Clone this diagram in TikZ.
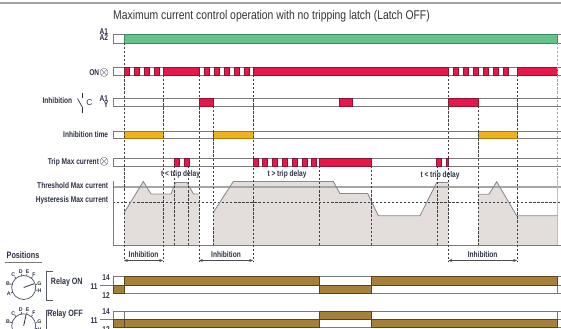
\documentclass[tikz,border=0pt]{standalone}
\usepackage{fontspec}
\setmainfont{Liberation Sans}
\usepackage{graphicx}
\usetikzlibrary{positioning,arrows.meta,calc}

\definecolor{lblcol}{HTML}{2B3044}
\definecolor{rowcol}{HTML}{7A7A7A}
\definecolor{grn}{HTML}{66C28C}
\definecolor{grnd}{HTML}{3E8A5C}
\definecolor{rd}{HTML}{E8174A}
\definecolor{rdd}{HTML}{8C1533}
\definecolor{org}{HTML}{F0B21A}
\definecolor{orgd}{HTML}{A87A12}
\definecolor{brn}{HTML}{A67F3A}
\definecolor{brnd}{HTML}{5A4522}
\definecolor{curfill}{HTML}{E3DEDB}
\definecolor{curline}{HTML}{8A8A8A}

\newcommand{\cnd}[1]{\scalebox{0.78}[1.0]{#1}}

\tikzset{
  lbl/.style={font=\fontsize{4.8}{5}\selectfont\bfseries, text=lblcol, inner sep=0pt},
  symb/.style={font=\fontsize{6}{6}\selectfont, text=lblcol, inner sep=0pt},
  rowline/.style={draw=rowcol, line width=0.5pt},
  tmark/.style={draw=black!75, line width=0.35pt, dash pattern=on 1.3pt off 1pt},
  greenbar/.style={fill=grn, draw=grnd, line width=0.5pt},
  redbar/.style={fill=rd, draw=rdd, line width=0.4pt},
  orangebar/.style={fill=org, draw=orgd, line width=0.4pt},
  brownbar/.style={fill=brn, draw=brnd, line width=0.4pt},
  wave/.style={draw=curline, line width=0.5pt},
  span/.style={<->, >={Stealth[length=2.2pt,width=1.8pt]}, draw=black!70, line width=0.4pt},
}

\begin{document}
\begin{tikzpicture}[x=0.02cm,y=-0.02cm]
\useasboundingbox (0,0) rectangle (561,328);

% top rule and title
\draw[draw=rowcol!70, line width=0.6pt] (0,3) -- (561,3);
\node[font=\fontsize{7.2}{8}\selectfont, text=black!80, inner sep=0pt] (title) at (271.5,16) {\scalebox{0.82}[1.0]{Maximum current control operation with no tripping latch (Latch OFF)}};

% current curve, filled
\fill[curfill] (124,245) -- (124,213) -- (143.3,181.5) -- (151,194) -- (171,194) -- (175.5,182.5) -- (187,182.5) -- (193.5,194) -- (199,194) -- (199,245) -- cycle;
\fill[curfill] (213,245) -- (213,213) -- (233.3,181.5) -- (333.3,181.5) -- (340,193.5) -- (367.7,193.5) -- (378.3,215.7) -- (420,215.7) -- (436.7,182.5) -- (448.3,182.5) -- (448.3,245) -- cycle;
\fill[curfill] (478,245) -- (478,194.3) -- (489,194.3) -- (496.7,181.7) -- (516.7,215.7) -- (557.7,215.7) -- (557.7,245) -- cycle;

% threshold and hysteresis levels
\draw[draw=black!35, line width=0.9pt] (113,187) -- (561,187);
\draw[tmark] (113,202) -- (561,202);
\draw[rowline] (113,181) -- (113,245) -- (561,245);
\draw[draw=black!25, line width=0.8pt] (557.7,181) -- (557.7,245);

% current outline
\draw[wave] (124,213) -- (143.3,181.5) -- (151,194) -- (171,194) -- (175.5,182.5) -- (187,182.5) -- (193.5,194) -- (199,194);
\draw[wave] (213,213) -- (233.3,181.5) -- (333.3,181.5) -- (340,193.5) -- (367.7,193.5) -- (378.3,215.7) -- (420,215.7) -- (436.7,182.5) -- (448.3,182.5);
\draw[wave] (478,194.3) -- (489,194.3) -- (496.7,181.7) -- (516.7,215.7) -- (557.7,215.7);

% signal rows
\foreach \ya/\yb in {34/43,67/75,98/106,131/138.5,158/166} {
  \draw[rowline] (113,\ya) -- (561,\ya);
  \draw[rowline] (113,\yb) -- (561,\yb);
  \draw[rowline] (113,\ya) -- (113,\yb);
}

% A1-A2 supply
\draw[greenbar] (124,34) rectangle (557.7,43);

% ON
\foreach \x in {124,134,144,154} \draw[redbar] (\x,67) rectangle ++(5,8);
\draw[redbar] (163,67) rectangle (199,75);
\foreach \x in {204,214,224,234,244} \draw[redbar] (\x,67) rectangle ++(5,8);
\draw[redbar] (253,67) rectangle (448,75);
\foreach \x in {453,463,473,483,493,503} \draw[redbar] (\x,67) rectangle ++(5,8);
\draw[redbar] (517,67) rectangle (557.7,75);

% inhibition C
\draw[redbar] (199,98) rectangle (213,106);
\draw[redbar] (339,98) rectangle (352,106);
\draw[redbar] (448,98) rectangle (478,106);

% inhibition time
\draw[orangebar] (124,131) rectangle (163,138.5);
\draw[orangebar] (213,131) rectangle (253,138.5);
\draw[orangebar] (478,131) rectangle (517,138.5);

% trip max current
\foreach \x in {174,184} \draw[redbar] (\x,158) rectangle ++(5,8);
\foreach \k in {0,...,6} \draw[redbar] (253+9.8*\k,158) rectangle ++(5,8);
\draw[redbar] (319,158) rectangle (371,166);
\draw[redbar] (436.5,158) rectangle (441.5,166);
\draw[redbar] (446,158) rectangle (448.5,166);

% time markers
\foreach \x/\ya/\yb in {124/43/261, 163/75/261, 199/75/261, 213/106/245, 253/75/261,
    174/166/245, 188/166/245, 319/166/245, 371/166/245, 437/166/245,
    448.3/75/261, 478/106/245, 517/75/261}
  \draw[tmark] (\x,\ya) -- (\x,\yb);
\draw[tmark, draw=black!35] (557.7,43) -- (557.7,181);

% trip delay labels
\node[lbl] (td1) at (180.5,174) {\cnd{t < trip delay}};
\node[lbl] (td2) at (287,174) {\cnd{t > trip delay}};
\node[lbl] (td3) at (440,175) {\cnd{t < trip delay}};

% inhibition spans
\coordinate (ia1) at (124,260.5);
\coordinate (ib1) at (163,260.5);
\coordinate (ia2) at (199,260.5);
\coordinate (ib2) at (253,260.5);
\coordinate (ia3) at (448.3,260.5);
\coordinate (ib3) at (517,260.5);
\draw[span] (ia1) -- (ib1) node[lbl, midway, yshift=3.7pt] (in1) {\cnd{Inhibition}};
\draw[span] (ia2) -- (ib2) node[lbl, midway, yshift=3.7pt] (in2) {\cnd{Inhibition}};
\draw[span] (ia3) -- (ib3) node[lbl, midway, yshift=3.7pt] (in3) {\cnd{Inhibition}};

% left labels
\node[lbl, anchor=east] (a1) at (108.5,31.5) {\cnd{A1}};
\node[lbl, anchor=east] (a2) at (108.5,38) {\cnd{A2}};
\node[lbl, anchor=east] (on) at (99.5,72.5) {\cnd{ON}};
\node[symb] (onx) at (104.3,72.5) {$\otimes$};
\node[lbl, anchor=east] (inh) at (72.5,100) {\cnd{Inhibition}};
\draw[lblcol, line width=0.4pt] (82.5,93) -- (82.5,98) (77.5,98.5) -- (82.5,107.5) -- (82.5,113);
\node[font=\fontsize{4.8}{5}\selectfont, text=lblcol, inner sep=0pt] (cc) at (89.5,103) {C};
\node[lbl, anchor=east] (ca1) at (108.5,99) {\cnd{A1}};
\node[lbl, anchor=east] (cy) at (108.5,105) {\cnd{Y}};
\node[lbl, anchor=east] (inht) at (108.5,134) {\cnd{Inhibition time}};
\node[lbl, anchor=east] (trip) at (99.3,162) {\cnd{Trip Max current}};
\node[symb] (tripx) at (104.3,162) {$\otimes$};
\node[lbl, anchor=east] (thr) at (108.5,185) {\cnd{Threshold Max current}};
\node[lbl, anchor=east] (hys) at (108.5,200.5) {\cnd{Hysteresis Max current}};

% positions
\node[lbl, font=\fontsize{5.3}{6}\selectfont\bfseries] (pos) at (23,255.5) {\cnd{Positions}};
\draw[draw=rowcol, line width=0.8pt] (5,262.7) -- (42,262.7);
\foreach \cy/\pa [count=\i] in {287.5/20, 325.8/78} {
  \draw[lblcol!85, line width=0.4pt] (23.7,\cy) circle (12);
  \foreach \a/\l in {203/A,165/B,130/C,100/D,76/E,51/F,14/G,-12/H} {
    \draw[lblcol!85, line width=0.4pt] (23.7,\cy) ++(-\a:12) -- ++(-\a:2);
    \node[font=\fontsize{3}{3}\selectfont\bfseries, text=lblcol, inner sep=0pt] (d\i\l) at ($(23.7,\cy)+(-\a:16.3)$) {\l};
  }
  \draw[lblcol, line width=0.45pt] (23.7,\cy) -- ++(-\pa:11);
}

% relay ON
\node[lbl, font=\fontsize{5.2}{6}\selectfont\bfseries, anchor=east] (ron) at (83,282.5) {\cnd{Relay ON}};
\draw[lblcol!80, line width=0.5pt] (53,271.7) -- (46,271.7) -- (46,300) -- (53,300);
\foreach \y in {276,285,293.3} \draw[rowline] (113,\y) -- (561,\y);
\draw[rowline] (100,285) -- (113,285);
\foreach \x in {113,124,319,371,557.7} \draw[rowline] (\x,276) -- (\x,293.3);
\draw[brownbar] (124,276) rectangle (319,285);
\draw[brownbar] (371,276) rectangle (557.7,285);
\draw[brownbar] (113,285) rectangle (124,293.3);
\draw[brownbar] (319,285) rectangle (371,293.3);
\node[lbl] (r14a) at (106,277.5) {\cnd{14}};
\node[lbl] (r11a) at (94,286.5) {\cnd{11}};
\node[lbl] (r12a) at (106,295.5) {\cnd{12}};

% relay OFF
\node[lbl, font=\fontsize{5.2}{6}\selectfont\bfseries, anchor=east] (roff) at (83,314) {\cnd{Relay OFF}};
\draw[lblcol!80, line width=0.5pt] (53,310) -- (46,310) -- (46,340);
\foreach \y in {311,319,327.5} \draw[rowline] (113,\y) -- (561,\y);
\draw[rowline] (100,319) -- (113,319);
\foreach \x in {113,124,319,371,557.7} \draw[rowline] (\x,311) -- (\x,327.5);
\draw[brownbar] (319,311) rectangle (371,319);
\draw[brownbar] (113,319) rectangle (319,327.5);
\draw[brownbar] (371,319) rectangle (557.7,327.5);
\draw[draw=brnd, line width=0.4pt] (124,319) -- (124,327.5);
\node[lbl] (r14b) at (106,312) {\cnd{14}};
\node[lbl] (r11b) at (94,320.5) {\cnd{11}};
\node[lbl] (r12b) at (106,329.5) {\cnd{12}};
\end{tikzpicture}
\end{document}
